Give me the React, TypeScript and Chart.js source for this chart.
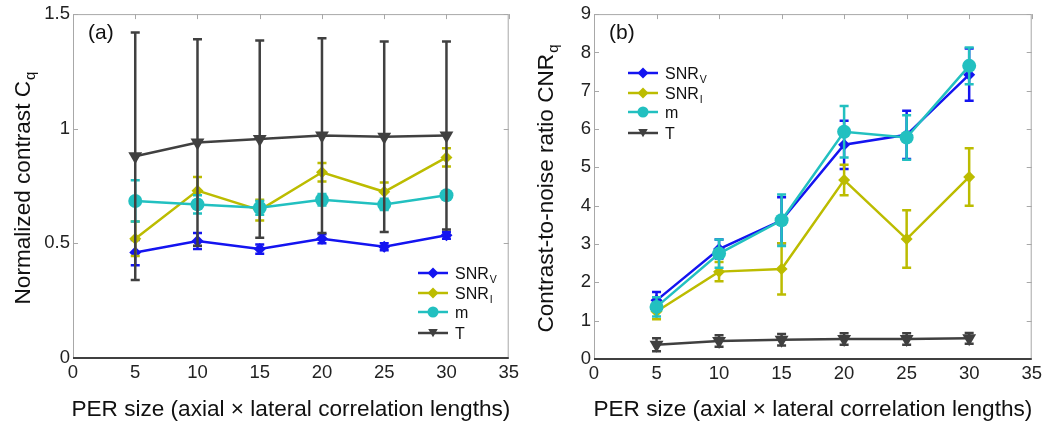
import React, { useEffect, useRef } from "react";
import { Chart, registerables } from "chart.js";

Chart.register(...registerables);

// ---------- data ----------
const xValues = [5, 10, 15, 20, 25, 30];
const xTickValues = [0, 5, 10, 15, 20, 25, 30, 35];

const aYTickValues = [0, 0.5, 1, 1.5];
const aSnrV = [0.46, 0.51, 0.475, 0.52, 0.485, 0.535];
const aSnrVErr = [0.055, 0.035, 0.02, 0.02, 0.015, 0.015];
const aSnrI = [0.52, 0.73, 0.645, 0.81, 0.725, 0.875];
const aSnrIErr = [0.075, 0.06, 0.045, 0.04, 0.04, 0.04];
const aM = [0.685, 0.67, 0.655, 0.69, 0.67, 0.71];
const aMErr = [0.09, 0.04, 0.03, 0.025, 0.025, 0.015];
const aT = [0.88, 0.94, 0.955, 0.97, 0.965, 0.97];
const aTErr = [0.54, 0.45, 0.43, 0.425, 0.415, 0.41];

const bYTickValues = [0, 1, 2, 3, 4, 5, 6, 7, 8, 9];
const bSnrV = [1.53, 2.87, 3.62, 5.59, 5.85, 7.42];
const bSnrVErr = [0.22, 0.25, 0.6, 0.63, 0.63, 0.68];
const bSnrI = [1.24, 2.28, 2.35, 4.67, 3.13, 4.75];
const bSnrIErr = [0.2, 0.25, 0.67, 0.4, 0.75, 0.75];
const bM = [1.36, 2.75, 3.62, 5.93, 5.78, 7.65];
const bMErr = [0.25, 0.37, 0.67, 0.67, 0.58, 0.48];
const bT = [0.37, 0.47, 0.5, 0.52, 0.52, 0.54];
const bTErr = [0.17, 0.15, 0.15, 0.15, 0.15, 0.14];

const seriesNames = [
  { main: "SNR", sub: "V" },
  { main: "SNR", sub: "I" },
  { main: "m", sub: "" },
  { main: "T", sub: "" },
];

const COLORS = ["#1414f0", "#bcbc00", "#22c0c0", "#404040"];
const STYLES = ["rectRot", "rectRot", "circle", "triangle"];
const ROTS = [0, 0, 0, 180];
const RADII = [6, 6, 7, 8];

const FONT = "'Liberation Sans', Arial, sans-serif";

type PanelCfg = {
  values: number[][];
  errors: number[][];
  yTicks: number[];
  yMax: number;
  padRight: number;
  yAxisWidth: number;
  xAxisHeight: number;
  tag: string;
  yTitle: string;
  yTitleSub: string;
  legend: { x0: number; y: number[]; box?: number[] };
};

function drawRich(ctx: CanvasRenderingContext2D, x: number, y: number, main: string, sub: string, size: number, subSize: number, align: "left" | "center") {
  ctx.font = `${size}px ${FONT}`;
  const w1 = ctx.measureText(main).width;
  ctx.font = `${subSize}px ${FONT}`;
  const w2 = sub ? ctx.measureText(sub).width + 1 : 0;
  const total = w1 + w2;
  const sx = align === "center" ? x - total / 2 : x;
  ctx.textAlign = "left";
  ctx.textBaseline = "alphabetic";
  ctx.font = `${size}px ${FONT}`;
  ctx.fillText(main, sx, y);
  if (sub) {
    ctx.font = `${subSize}px ${FONT}`;
    ctx.fillText(sub, sx + w1 + 1, y + size * 0.22);
  }
}

function drawMarker(ctx: CanvasRenderingContext2D, style: string, x: number, y: number, r: number, color: string) {
  ctx.fillStyle = color;
  ctx.beginPath();
  if (style === "circle") {
    ctx.arc(x, y, r, 0, Math.PI * 2);
  } else if (style === "rectRot") {
    ctx.moveTo(x, y - r);
    ctx.lineTo(x + r, y);
    ctx.lineTo(x, y + r);
    ctx.lineTo(x - r, y);
    ctx.closePath();
  } else {
    const h = r * 1.5;
    const w = r * 0.87;
    ctx.moveTo(x - w, y - h / 2);
    ctx.lineTo(x + w, y - h / 2);
    ctx.lineTo(x, y + h / 2);
    ctx.closePath();
  }
  ctx.fill();
}

function Panel({ cfg }: { cfg: PanelCfg }) {
  const ref = useRef<HTMLCanvasElement | null>(null);
  useEffect(() => {
    if (!ref.current) return;
    const datasets = cfg.values.map((vals, i) => ({
      label: seriesNames[i].main + seriesNames[i].sub,
      data: xValues.map((x, j) => ({ x, y: vals[j] })),
      errors: cfg.errors[i],
      borderColor: COLORS[i],
      backgroundColor: COLORS[i],
      borderWidth: 2.5,
      pointStyle: STYLES[i],
      pointRotation: ROTS[i],
      pointRadius: RADII[i],
      pointBorderWidth: 0,
      order: 4 - i,
      tension: 0,
    }));

    const errorBars = {
      id: "errorBars",
      afterDatasetDraw(chart: any, args: any) {
        const ds = chart.data.datasets[args.index];
        const meta = args.meta;
        const ys = chart.scales.y;
        const ctx = chart.ctx;
        ctx.save();
        ctx.strokeStyle = ds.borderColor;
        ctx.lineWidth = 2.5;
        meta.data.forEach((pt: any, j: number) => {
          const v = ds.data[j].y;
          const e = ds.errors[j];
          const top = ys.getPixelForValue(v + e);
          const bot = ys.getPixelForValue(v - e);
          ctx.beginPath();
          ctx.moveTo(pt.x, top);
          ctx.lineTo(pt.x, bot);
          ctx.moveTo(pt.x - 4.5, top);
          ctx.lineTo(pt.x + 4.5, top);
          ctx.moveTo(pt.x - 4.5, bot);
          ctx.lineTo(pt.x + 4.5, bot);
          ctx.stroke();
        });
        ctx.restore();
      },
    };

    const frame = {
      id: "frame",
      beforeDatasetsDraw(chart: any) {
        const { ctx, chartArea: a, scales } = chart;
        ctx.save();
        ctx.strokeStyle = "#a8a8a8";
        ctx.lineWidth = 1;
        ctx.beginPath();
        ctx.moveTo(a.left + 0.5, a.bottom);
        ctx.lineTo(a.left + 0.5, a.top + 0.5);
        ctx.lineTo(a.right - 0.5, a.top + 0.5);
        ctx.lineTo(a.right - 0.5, a.bottom);
        ctx.stroke();
        // ticks
        ctx.beginPath();
        cfg.yTicks.forEach((v) => {
          const y = Math.round(scales.y.getPixelForValue(v)) + 0.5;
          ctx.moveTo(a.left, y);
          ctx.lineTo(a.left + 5, y);
          ctx.moveTo(a.right, y);
          ctx.lineTo(a.right - 5, y);
        });
        xTickValues.forEach((v) => {
          const x = Math.round(scales.x.getPixelForValue(v)) + 0.5;
          ctx.moveTo(x, a.top);
          ctx.lineTo(x, a.top + 5);
        });
        ctx.stroke();
        ctx.strokeStyle = "#404040";
        ctx.lineWidth = 2;
        ctx.beginPath();
        ctx.moveTo(a.left, a.bottom);
        ctx.lineTo(a.right, a.bottom);
        ctx.stroke();
        ctx.restore();
      },
      afterDraw(chart: any) {
        const { ctx, chartArea: a } = chart;
        ctx.save();
        ctx.fillStyle = "#111";
        // panel tag
        ctx.font = `21px ${FONT}`;
        ctx.textAlign = "left";
        ctx.textBaseline = "middle";
        ctx.fillText(cfg.tag, a.left + 15, 33);
        // x title
        drawRich(ctx, (a.left + a.right) / 2, 416, "PER size (axial \u00d7 lateral correlation lengths)", "", 22.6, 15, "center");
        // y title
        ctx.save();
        ctx.translate(30, (a.top + a.bottom) / 2 + 2);
        ctx.rotate(-Math.PI / 2);
        drawRich(ctx, 0, 0, cfg.yTitle, cfg.yTitleSub, 22.6, 15, "center");
        ctx.restore();
        // legend
        const L = cfg.legend;
        if (L.box) {
          ctx.fillStyle = "#ffffff";
          ctx.fillRect(L.box[0], L.box[1], L.box[2], L.box[3]);
        }
        seriesNames.forEach((s, i) => {
          const y = L.y[i];
          ctx.strokeStyle = COLORS[i];
          ctx.lineWidth = 2.5;
          ctx.beginPath();
          ctx.moveTo(L.x0, y);
          ctx.lineTo(L.x0 + 30, y);
          ctx.stroke();
          drawMarker(ctx, STYLES[i], L.x0 + 15, y, 5.5, COLORS[i]);
          ctx.fillStyle = "#111";
          drawRich(ctx, L.x0 + 37, y + 6, s.main, s.sub, 16, 10.5, "left");
        });
        ctx.restore();
      },
    };

    const chart = new Chart(ref.current, {
      type: "line",
      data: { datasets: datasets as any },
      options: {
        animation: false,
        responsive: false,
        devicePixelRatio: 1,
        layout: { padding: { left: 0, top: 12, right: cfg.padRight, bottom: 0 } },
        plugins: { legend: { display: false }, tooltip: { enabled: false } },
        scales: {
          x: {
            type: "linear",
            min: 0,
            max: 35,
            grid: { display: false, drawTicks: false },
            border: { display: false },
            afterBuildTicks: (s: any) => {
              s.ticks = xTickValues.map((v) => ({ value: v }));
            },
            afterFit: (s: any) => {
              s.height = cfg.xAxisHeight;
            },
            ticks: { padding: 4, color: "#222", font: { family: FONT, size: 18.5 }, maxRotation: 0, autoSkip: false, callback: (v: any) => String(v) },
          },
          y: {
            type: "linear",
            min: 0,
            max: cfg.yMax,
            grid: { display: false, drawTicks: false },
            border: { display: false },
            afterBuildTicks: (s: any) => {
              s.ticks = cfg.yTicks.map((v) => ({ value: v }));
            },
            afterFit: (s: any) => {
              s.width = cfg.yAxisWidth;
            },
            ticks: { padding: 3, color: "#222", font: { family: FONT, size: 18.5 }, autoSkip: false, callback: (v: any) => String(v) },
          },
        },
      },
      plugins: [errorBars, frame],
    } as any);
    return () => chart.destroy();
  }, [cfg]);
  return <canvas ref={ref} width={523} height={425} style={{ display: "block", width: 523, height: 425 }} />;
}

const panelA: PanelCfg = {
  values: [aSnrV, aSnrI, aM, aT],
  errors: [aSnrVErr, aSnrIErr, aMErr, aTErr],
  yTicks: aYTickValues,
  yMax: 1.5,
  padRight: 11,
  yAxisWidth: 73,
  xAxisHeight: 67,
  tag: "(a)",
  yTitle: "Normalized contrast C",
  yTitleSub: "q",
  legend: { x0: 418, y: [273, 293, 312, 333], box: [412, 262, 90, 84] },
};

const panelB: PanelCfg = {
  values: [bSnrV, bSnrI, bM, bT],
  errors: [bSnrVErr, bSnrIErr, bMErr, bTErr],
  yTicks: bYTickValues,
  yMax: 9,
  padRight: 13,
  yAxisWidth: 71,
  xAxisHeight: 66,
  tag: "(b)",
  yTitle: "Contrast-to-noise ratio CNR",
  yTitleSub: "q",
  legend: { x0: 105, y: [73, 93, 112, 133] },
};

export default function App() {
  return (
    <div style={{ position: "absolute", left: 0, top: 0, width: 1046, height: 425, background: "#fff", display: "flex" }}>
      <Panel cfg={panelA} />
      <Panel cfg={panelB} />
    </div>
  );
}
